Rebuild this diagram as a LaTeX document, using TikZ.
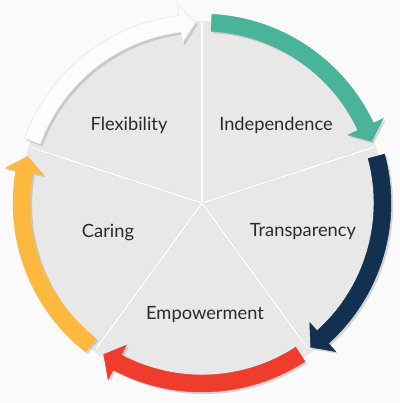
\documentclass[tikz,border=0pt]{standalone}
\usepackage{fontspec}
\setmainfont{Lato}
\usetikzlibrary{shadows}

\definecolor{tealgreen}{HTML}{49B49A}
\definecolor{navyblue}{HTML}{12304F}
\definecolor{flamered}{HTML}{EE3D2D}
\definecolor{sunyellow}{HTML}{FDB840}
\definecolor{arrowwhite}{HTML}{FCFCFC}
\definecolor{diskgray}{HTML}{E8E8E8}
\definecolor{labelgray}{HTML}{2A2A2A}

\begin{document}
\begin{tikzpicture}[
        x=0.025cm, y=0.025cm,
        cyclelabel/.style={font=\fontsize{13}{15}\selectfont, text=labelgray, inner sep=0pt},
        ringshadow/.style={drop shadow={shadow xshift=1.5pt, shadow yshift=-1.5pt, opacity=0.3}},
        spoke/.style={draw=gray!25, double=white, double distance=1pt, line width=0.4pt}
    ]
        % Background
        \fill[gray!4] (-202,-200) rectangle (198,203);
        \useasboundingbox (-202,-200) rectangle (198,203);

        % Disk
        \coordinate (c) at (0,0);
        \fill[diskgray, drop shadow={shadow xshift=1pt, shadow yshift=-2pt, opacity=0.15}] (c) circle[radius=182];

        % Spokes
        \foreach \a in {90,18,-54,-126,162}
            \draw[spoke] (c) -- (\a:180);

        % Arrows (clockwise)
        \foreach \s/\e/\col/\edge in {87/20/tealgreen/tealgreen, 15/-53/navyblue/navyblue,
                -57/-123/flamered/flamered, -128/-195/sunyellow/sunyellow, -200/-268/arrowwhite/gray!22} {
            \pgfmathsetmacro\h{\e+5}
            \filldraw[fill=\col, draw=\edge, line width=0.3pt, ringshadow] (\s:189) arc[start angle=\s, end angle=\h, radius=189]
                -- (\h:200) -- (\e:180.5) -- (\h:161) -- (\h:172)
                arc[start angle=\h, end angle=\s, radius=172] -- cycle;
        }

        % Labels
        \node[cyclelabel] (flex) at (-73,78) {Flexibility};
        \node[cyclelabel] (indep) at (74,78) {Independence};
        \node[cyclelabel] (trans) at (101,-29) {Transparency};
        \node[cyclelabel] (caring) at (-94,-29) {Caring};
        \node[cyclelabel] (empow) at (3,-112) {Empowerment};
\end{tikzpicture}
\end{document}
